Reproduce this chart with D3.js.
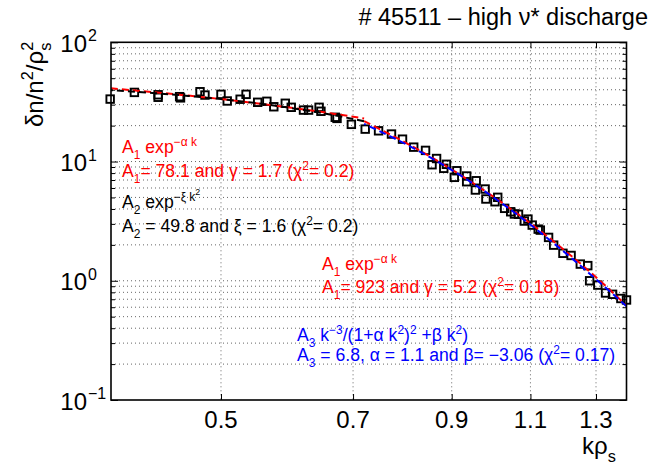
<!DOCTYPE html>
<html><head><meta charset="utf-8">
<script src="https://cdn.jsdelivr.net/npm/d3@7"></script>
<style>
body{margin:0;background:#fff}
text{font-family:"Liberation Sans",Arial,Helvetica,sans-serif;white-space:pre}
</style>
</head><body>
<svg id="c" width="656" height="468"></svg>
<script>
// ---- data ----
const kData = [0.377,0.401,0.426,0.426,0.450,0.451,0.474,0.480,0.500,0.508,0.525,0.533,0.549,0.562,0.572,0.589,0.598,0.617,0.625,0.642,0.645,0.669,0.672,0.697,0.722,0.747,0.772,0.794,0.817,0.842,0.856,0.866,0.882,0.888,0.906,0.912,0.935,0.935,0.956,0.958,0.980,0.982,1.005,1.012,1.030,1.046,1.056,1.067,1.083,1.093,1.105,1.122,1.128,1.152,1.167,1.195,1.220,1.249,1.273,1.279,1.306,1.332,1.356,1.385,1.405];
const specData = [33.4,38.0,36.3,34.6,35.0,34.2,38.5,36.1,36.6,32.2,33.3,36.6,31.4,32.0,28.8,30.8,28.5,27.0,27.0,28.5,26.4,23.5,23.0,20.5,18.7,18.1,17.0,15.4,13.2,12.4,9.4,10.6,8.77,9.48,7.37,8.37,7.56,6.77,5.77,6.90,5.88,4.85,4.60,5.01,4.05,3.79,3.63,3.61,3.17,3.29,2.93,2.71,2.66,2.31,1.99,1.70,1.63,1.38,1.34,1.00,0.92,0.79,0.77,0.71,0.69];

const lowFitK   = [0.3778,0.42,0.46,0.50,0.54,0.58,0.62,0.66,0.70,0.72];
const lowRed    = [41.09,38.25,35.73,33.38,31.19,29.14,27.23,25.43,23.76,22.97];
const lowBlack  = [39.63,37.55,35.50,33.38,31.23,29.07,26.92,24.81,22.74,21.73];
const highFitK  = [0.72,0.80,0.88,0.96,1.04,1.12,1.20,1.28,1.36,1.405];
const highRed   = [21.84,14.41,9.506,6.271,4.136,2.729,1.800,1.188,0.7836,0.619];
const highBlue  = [20.72,14.05,9.417,6.223,4.070,2.652,1.733,1.142,0.7618,0.610];

const xTicks = [0.5,0.7,0.9,1.1,1.3];
const xTickLabels = ["0.5","0.7","0.9","1.1","1.3"];
const yTicks = [0.1,1,10,100];
const yTickExp = ["\u22121","0","1","2"];

const titleText = "# 45511 \u2013 high \u03bd* discharge";

// annotation texts: [string, kind]
const ann = [
  {c:"#ff0000", x:122, y:153, p:[["A","n"],["1","sub"],[" exp","n"],["\u2212\u03b1 k","sup"]]},
  {c:"#ff0000", x:122, y:177, p:[["A","n"],["1","sub"],["= 78.1 and \u03b3 = 1.7 (\u03c7","n"],["2","sup"],["= 0.2)","n"]]},
  {c:"#000000", x:122, y:208, p:[["A","n"],["2","sub"],[" exp","n"],["\u2212\u03be k","sup"],["2","sup2"]]},
  {c:"#000000", x:122, y:232, p:[["A","n"],["2","sub"],[" = 49.8 and \u03be = 1.6 (\u03c7","n"],["2","sup"],["= 0.2)","n"]]},
  {c:"#ff0000", x:322, y:270, p:[["A","n"],["1","sub"],[" exp","n"],["\u2212\u03b1 k","sup"]]},
  {c:"#ff0000", x:322, y:293, p:[["A","n"],["1","sub"],["= 923 and \u03b3 = 5.2 (\u03c7","n"],["2","sup"],["= 0.18)","n"]]},
  {c:"#0000ff", x:297, y:341, p:[["A","n"],["3","sub"],[" k","n"],["\u22123","sup"],["/(1+\u03b1 k","n"],["2","sup"],[")","n"],["2","sup"],[" +\u03b2 k","n"],["2","sup"],[")","n"]]},
  {c:"#0000ff", x:297, y:361, p:[["A","n"],["3","sub"],[" = 6.8, \u03b1 = 1.1 and \u03b2= \u22123.06 (\u03c7","n"],["2","sup"],["= 0.17)","n"]]}
];

// ---- layout ----
const L=111, R=626.5, T=42.3, B=400;
const svg = d3.select("#c");
const x = d3.scaleLog().domain([0.3778,1.405]).range([L,R]);
const y = d3.scaleLog().domain([0.1,100]).range([B,T]);

const yMinor = [];
[0.1,1,10].forEach(d=>{for(let m=2;m<=9;m++) yMinor.push(d*m);});

// grid
const grid = svg.append("g");
grid.selectAll("line.gy").data(yMinor.concat([1,10])).join("line")
  .attr("x1",L).attr("x2",R).attr("y1",d=>y(d)).attr("y2",d=>y(d))
  .attr("stroke","#666").attr("stroke-width",1).attr("stroke-dasharray","1,3");
grid.selectAll("line.gx").data(xTicks).join("line")
  .attr("x1",d=>x(d)).attr("x2",d=>x(d)).attr("y1",T).attr("y2",B)
  .attr("stroke","#666").attr("stroke-width",1).attr("stroke-dasharray","1,3");

// axes ticks (inward)
function styleAxis(g){ g.select(".domain").remove(); g.selectAll("line").attr("stroke","#000").attr("stroke-width",1); }
svg.append("g").attr("transform",`translate(${L},0)`).call(d3.axisLeft(y).tickValues(yTicks).tickSize(-7).tickFormat(()=>"")).call(styleAxis);
svg.append("g").attr("transform",`translate(${L},0)`).call(d3.axisLeft(y).tickValues(yMinor).tickSize(-4).tickFormat(()=>"")).call(styleAxis);
svg.append("g").attr("transform",`translate(${R},0)`).call(d3.axisRight(y).tickValues(yTicks).tickSize(-7).tickFormat(()=>"")).call(styleAxis);
svg.append("g").attr("transform",`translate(${R},0)`).call(d3.axisRight(y).tickValues(yMinor).tickSize(-4).tickFormat(()=>"")).call(styleAxis);
svg.append("g").attr("transform",`translate(0,${B})`).call(d3.axisBottom(x).tickValues(xTicks).tickSize(-6).tickFormat(()=>"")).call(styleAxis);
svg.append("g").attr("transform",`translate(0,${T})`).call(d3.axisTop(x).tickValues(xTicks).tickSize(-6).tickFormat(()=>"")).call(styleAxis);

// fit lines
const line = d3.line().curve(d3.curveCatmullRom.alpha(0.5));
function fit(ks, vs, color, offset){
  svg.append("path").attr("d", line(ks.map((k,i)=>[x(k), y(vs[i])])))
    .attr("fill","none").attr("stroke",color).attr("stroke-width",2)
    .attr("stroke-dasharray","7,4").attr("stroke-dashoffset",offset);
}

// data squares
const s = 7.5;
svg.append("g").selectAll("rect").data(kData).join("rect")
  .attr("x",(d)=>x(d)-s/2).attr("y",(d,i)=>y(specData[i])-s/2)
  .attr("width",s).attr("height",s)
  .attr("fill","none").attr("stroke","#000").attr("stroke-width",1.9);

fit(lowFitK, lowRed, "#ff0000", 0);
fit(lowFitK, lowBlack, "#000000", 5);
fit(highFitK, highRed, "#ff0000", 0);
fit(highFitK, highBlue, "#0000ff", 5);

// box
svg.append("rect").attr("x",L).attr("y",T).attr("width",R-L).attr("height",B-T)
  .attr("fill","none").attr("stroke","#000").attr("stroke-width",1.6);

// tick labels
svg.append("g").selectAll("text").data(xTicks).join("text")
  .attr("x",d=>x(d)).attr("y",B+28).attr("text-anchor","middle")
  .attr("font-size",24).text((d,i)=>xTickLabels[i]);
const yl = svg.append("g");
yTicks.forEach((d,i)=>{
  yl.append("text").attr("x",87).attr("y",y(d)+9.5).attr("text-anchor","end").attr("font-size",24).text("10");
  yl.append("text").attr("x",88).attr("y",y(d)-1).attr("text-anchor","start").attr("font-size",16).text(yTickExp[i]);
});

// rich text helper
function rich(g, x0, y0, parts, fs, color, attrs){
  const t = g.append("text").attr("x",x0).attr("y",y0).attr("font-size",fs).attr("fill",color);
  if(attrs) Object.entries(attrs).forEach(([k,v])=>t.attr(k,v));
  let level = 0, prev=null;
  parts.forEach(([str,kind])=>{
    let target=0, size=fs, dx=0;
    if(kind==="sup"){target=-0.42*fs; size=0.68*fs;}
    else if(kind==="sub"){target=0.32*fs; size=0.68*fs;}
    else if(kind==="sup2"){target=-0.72*fs; size=0.5*fs;}
    else if(kind==="supback"){target=-0.42*fs; size=0.68*fs; dx=-prev.node().getComputedTextLength();}
    const ts = t.append("tspan").attr("dy",target-level).attr("font-size",size).text(str);
    if(dx) ts.attr("dx",dx);
    level = target; prev = ts;
  });
  return t;
}

ann.forEach(a=>rich(svg, a.x, a.y, a.p, 17.6, a.c));

// title
svg.append("text").attr("x",648).attr("y",25).attr("text-anchor","end").attr("font-size",23.5).text(titleText);

// x label
rich(svg, 582, 454, [["k\u03c1","n"],["s","sub"]], 24, "#000");

// y label
const yg = svg.append("g").attr("transform","translate(43,127) rotate(-90)");
rich(yg, 0, 0, [["\u03b4n/n","n"],["2","sup"],["/\u03c1","n"],["s","sub"],["2","supback"]], 24, "#000");
</script>
</body></html>
